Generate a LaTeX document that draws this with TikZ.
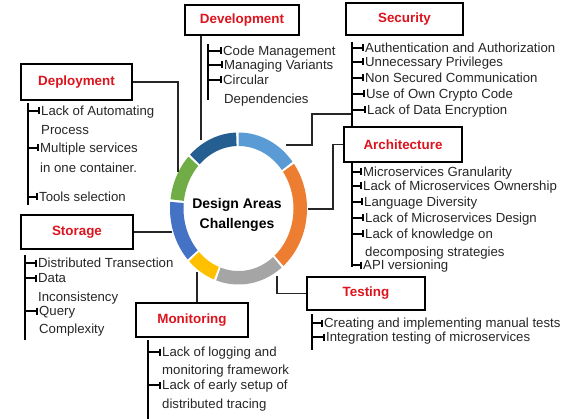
\documentclass[tikz,border=0pt]{standalone}
\usepackage{fontspec}
\setmainfont{Liberation Sans}
\usetikzlibrary{arrows.meta}
\definecolor{boxred}{RGB}{220,20,30}
\definecolor{segLB}{RGB}{91,155,213}
\definecolor{segOR}{RGB}{237,125,49}
\definecolor{segGR}{RGB}{165,165,165}
\definecolor{segYE}{RGB}{255,192,0}
\definecolor{segMB}{RGB}{68,114,196}
\definecolor{segGN}{RGB}{112,173,71}
\definecolor{segDB}{RGB}{37,94,145}
\begin{document}
\begin{tikzpicture}[x=1pt,y=-1pt,
  box/.style={draw=black, line width=2.8pt, fill=white, inner sep=0pt,
    text=boxred, font=\fontsize{13.4}{15}\selectfont\bfseries},
  item/.style={anchor=west, inner sep=0pt, text height=9pt, text depth=0pt,
    font=\fontsize{13.2}{15}\selectfont, text=black!85},
  bracket/.style={line width=2.2pt},
  tick/.style={line width=1.5pt, -{Bar[width=7pt,line width=1.8pt]}},
  conn/.style={line width=1.1pt, black!85}]
\useasboundingbox (0,0) rectangle (569,419);

% ring
\foreach \a/\b/\c in {37/91/segLB, 91/136/segDB, 136/174/segGN, 174/223/segMB, 223/250/segYE, 250/310/segGR, 310/397/segOR}{
  \fill[\c] plot[domain=-\a-1:-\b+1, samples=40] ({238.5+68.5*cos(\x)},{208.5+76*sin(\x)})
    -- plot[domain=-\b+1:-\a-1, samples=40] ({238.5+55*cos(\x)},{208.5+62.5*sin(\x)}) -- cycle;
}
\node[font=\fontsize{14}{20}\selectfont\bfseries, align=center] (center) at (237,215) {Design Areas\\Challenges};

% boxes
\node[box, minimum width=114pt, minimum height=30pt] (dev) at (242,20) {Development};
\node[box, minimum width=117pt, minimum height=32pt] (sec) at (404.5,19) {Security};
\node[box, minimum width=118pt, minimum height=35pt] (arc) at (403,144.5) {Architecture};
\node[box, minimum width=118pt, minimum height=33pt] (test) at (366,293.5) {Testing};
\node[box, minimum width=112pt, minimum height=34pt] (mon) at (192,320) {Monitoring};
\node[box, minimum width=112pt, minimum height=34pt] (sto) at (77,232) {Storage};
\node[box, minimum width=111pt, minimum height=36pt] (dep) at (76.5,82) {Deployment};

% connectors
\coordinate (rDev) at (201,140);
\draw[conn] (dev.south -| rDev) -- (rDev);
\coordinate (rSec) at (286,145);
\coordinate (secJ) at (352,114);
\draw[conn] (rSec) -- (312,145) |- (secJ);
\coordinate (rArc) at (308,209);
\draw[conn] (rArc) -- (333,209) |- (arc.west);
\coordinate (rTest) at (277,276);
\draw[conn] (rTest) |- (test.west);
\coordinate (rMon) at (197,272);
\draw[conn] (rMon) -- (rMon |- mon.north);
\coordinate (rSto) at (172,232);
\draw[conn] (sto.east) -- (rSto);
\coordinate (rDep) at (178,172);
\draw[conn] (dep.east) -| (rDep);

% brackets
\draw[bracket] (208,44) -- (208,100);
\draw[bracket] (352,42) -- (352,0 |- arc.north);
\draw[bracket] (352,162) -- (352,267);
\draw[bracket] (312,314) -- (312,350);
\draw[bracket] (148,340) -- (148,419);
\draw[bracket] (25,255) -- (25,340);
\draw[bracket] (28,103) -- (28,205);

% Deployment items
\node[item] (dp1) at (41,111) {Lack of Automating};
\node[item] (dp1b) at (41,130) {Process};
\node[item] (dp2) at (40,148) {Multiple services};
\node[item] (dp2b) at (40,168) {in one container.};
\node[item] (dp3) at (39,197) {Tools selection};
\foreach \n in {dp1,dp2,dp3}{\draw[tick] (28,0 |- \n.west) -- ([xshift=-1pt]\n.west);}

% Development items
\node[item] (dv1) at (223,51) {Code Management};
\node[item] (dv2) at (224,65) {Managing Variants};
\node[item] (dv3) at (223,80) {Circular};
\node[item] (dv3b) at (224,99) {Dependencies};
\foreach \n in {dv1,dv2,dv3}{\draw[tick] (208,0 |- \n.west) -- ([xshift=-1pt]\n.west);}

% Security items
\node[item] (sc1) at (365,48) {Authentication and Authorization};
\node[item] (sc2) at (365,62) {Unnecessary Privileges};
\node[item] (sc3) at (365,78) {Non Secured Communication};
\node[item] (sc4) at (366,94) {Use of Own Crypto Code};
\node[item] (sc5) at (367,110) {Lack of Data Encryption};
\foreach \n in {sc1,sc2,sc3,sc4,sc5}{\draw[tick] (352,0 |- \n.west) -- ([xshift=-1pt]\n.west);}

% Architecture items
\node[item] (ar1) at (363,172) {Microservices Granularity};
\node[item] (ar2) at (363,186) {Lack of Microservices Ownership};
\node[item] (ar3) at (364,202) {Language Diversity};
\node[item] (ar4) at (365,218) {Lack of Microservices Design};
\node[item] (ar5) at (365,234) {Lack of knowledge on};
\node[item] (ar5b) at (365,252) {decomposing strategies};
\node[item] (ar6) at (363,265) {API versioning};
\foreach \n in {ar1,ar2,ar3,ar4,ar5,ar6}{\draw[tick] (352,0 |- \n.west) -- ([xshift=-1pt]\n.west);}

% Testing items
\node[item] (ts1) at (324,323) {Creating and implementing manual tests};
\node[item] (ts2) at (326,337) {Integration testing of microservices};
\foreach \n in {ts1,ts2}{\draw[tick] (312,0 |- \n.west) -- ([xshift=-1pt]\n.west);}

% Monitoring items
\node[item] (mn1) at (162,352) {Lack of logging and};
\node[item] (mn1b) at (162,370) {monitoring framework};
\node[item] (mn2) at (162,385) {Lack of early setup of};
\node[item] (mn2b) at (162,404) {distributed tracing};
\foreach \n in {mn1,mn2}{\draw[tick] (148,0 |- \n.west) -- ([xshift=-1pt]\n.west);}

% Storage items
\node[item] (st1) at (38,263) {Distributed Transection};
\node[item] (st2) at (38,278) {Data};
\node[item] (st2b) at (38,297) {Inconsistency};
\node[item] (st3) at (39,311) {Query};
\node[item] (st3b) at (39,329) {Complexity};
\foreach \n in {st1,st2,st3}{\draw[tick] (25,0 |- \n.west) -- ([xshift=-1pt]\n.west);}
\end{tikzpicture}
\end{document}
